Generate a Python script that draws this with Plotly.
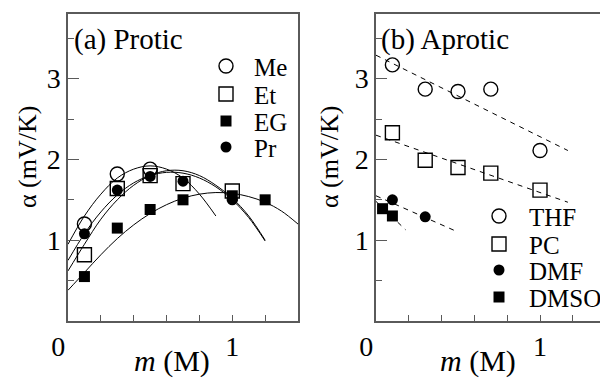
import plotly.graph_objects as go

# ---------------- data: (a) Protic ----------------
me_x = [0.1, 0.3, 0.5]
me_y = [1.20, 1.82, 1.88]
et_x = [0.1, 0.3, 0.5, 0.7, 1.0]
et_y = [0.82, 1.64, 1.80, 1.70, 1.61]
eg_x = [0.1, 0.3, 0.5, 0.7, 1.0, 1.2]
eg_y = [0.55, 1.15, 1.38, 1.50, 1.55, 1.50]
pr_x = [0.1, 0.3, 0.5, 0.7, 1.0]
pr_y = [1.08, 1.62, 1.79, 1.73, 1.50]

# fit curves
me_fit_x = [0, 0.1, 0.2, 0.3, 0.4, 0.5, 0.6, 0.7, 0.8, 0.9]
me_fit_y = [0.95, 1.30, 1.57, 1.77, 1.88, 1.92, 1.88, 1.77, 1.57, 1.30]
pr_fit_x = [0, 0.1, 0.2, 0.3, 0.4, 0.5, 0.6, 0.7, 0.8, 0.9, 1.0, 1.1, 1.2]
pr_fit_y = [0.75, 1.08, 1.35, 1.56, 1.71, 1.80, 1.84, 1.83, 1.77, 1.66, 1.50, 1.28, 0.99]
et_fit_x = [0, 0.1, 0.2, 0.3, 0.4, 0.5, 0.6, 0.7, 0.8, 0.9, 1.0, 1.1, 1.2]
et_fit_y = [0.62, 0.95, 1.26, 1.50, 1.68, 1.80, 1.86, 1.86, 1.80, 1.68, 1.52, 1.30, 1.00]
eg_fit_x = [0, 0.1, 0.2, 0.3, 0.4, 0.5, 0.6, 0.7, 0.8, 0.9, 1.0, 1.1, 1.2, 1.3, 1.4]
eg_fit_y = [0.38, 0.60, 0.82, 1.02, 1.19, 1.33, 1.44, 1.52, 1.57, 1.59, 1.58, 1.54, 1.47, 1.36, 1.20]

# ---------------- data: (b) Aprotic ----------------
thf_x = [0.1, 0.3, 0.5, 0.7, 1.0]
thf_y = [3.17, 2.87, 2.84, 2.87, 2.11]
pc_x = [0.1, 0.3, 0.5, 0.7, 1.0]
pc_y = [2.33, 1.99, 1.90, 1.83, 1.62]
dmf_x = [0.1, 0.3]
dmf_y = [1.50, 1.29]
dmso_x = [0.04, 0.1]
dmso_y = [1.39, 1.30]

thf_fit_x = [0, 1.17]
thf_fit_y = [3.29, 2.11]
pc_fit_x = [0, 1.17]
pc_fit_y = [2.30, 1.47]
dmf_fit_x = [0, 0.49]
dmf_fit_y = [1.55, 1.11]
dmso_fit_x = [0, 0.18]
dmso_fit_y = [1.48, 1.13]

# ticks
x_tickvals = [0, 0.2, 0.4, 0.6, 0.8, 1.0, 1.2, 1.4]
x_ticktext = ["0\u2002\u2009", "", "", "", "", "1", "", ""]
y_tickvals = [1, 2, 3]
y_ticktext = ["1", "2", "3"]

# legend labels
legend_a = ["Me", "Et", "EG", "Pr"]
legend_b = ["THF", "PC", "DMF", "DMSO"]

FONT = "Liberation Serif, Times New Roman, serif"
W, H = 600, 379
AX = "#5a5a5a"

STY = {
    "Me": ("circle-open", 14), "Et": ("square-open", 14), "EG": ("square", 11), "Pr": ("circle", 11),
    "THF": ("circle-open", 14), "PC": ("square-open", 14), "DMF": ("circle", 11), "DMSO": ("square", 11),
}

fig = go.Figure()

def marker(name):
    sym, size = STY[name]
    open_ = sym.endswith("open")
    return dict(symbol=sym, size=size, color="black",
                line=dict(color="black", width=1.4 if open_ else 0))

def pts(x, y, name, xa, ya):
    fig.add_trace(go.Scatter(x=x, y=y, mode="markers", name=name, xaxis=xa, yaxis=ya,
                             marker=marker(name), showlegend=False))

def fit(x, y, xa, ya, dash=None, shape="spline"):
    fig.add_trace(go.Scatter(
        x=x, y=y, mode="lines", showlegend=False, xaxis=xa, yaxis=ya,
        line=dict(color="black", width=1, dash=dash, shape=shape, smoothing=1.0),
        hoverinfo="skip",
    ))

# panel a
fit(me_fit_x, me_fit_y, "x", "y")
fit(et_fit_x, et_fit_y, "x", "y")
fit(pr_fit_x, pr_fit_y, "x", "y")
fit(eg_fit_x, eg_fit_y, "x", "y")
pts(me_x, me_y, "Me", "x", "y")
pts(et_x, et_y, "Et", "x", "y")
pts(eg_x, eg_y, "EG", "x", "y")
pts(pr_x, pr_y, "Pr", "x", "y")

# panel b
for fx, fy in [(thf_fit_x, thf_fit_y), (pc_fit_x, pc_fit_y),
               (dmf_fit_x, dmf_fit_y), (dmso_fit_x, dmso_fit_y)]:
    fit(fx, fy, "x2", "y2", dash="5px,5px", shape="linear")
pts(thf_x, thf_y, "THF", "x2", "y2")
pts(pc_x, pc_y, "PC", "x2", "y2")
pts(dmf_x, dmf_y, "DMF", "x2", "y2")
pts(dmso_x, dmso_y, "DMSO", "x2", "y2")

# legend keys drawn on a pixel-space overlay axis (x3/y3)
LEG = [(legend_a, 226, 252, [66, 94, 121, 147]),
       (legend_b, 499, 527, [216, 244, 270, 297])]
for names, kx, tx, ys in LEG:
    for name, ly in zip(names, ys):
        fig.add_trace(go.Scatter(x=[kx], y=[ly], mode="markers", xaxis="x3", yaxis="y3",
                                 marker=marker(name), showlegend=False, hoverinfo="skip"))
        fig.add_annotation(text=name, x=tx, y=ly + 1, xref="x3", yref="y3",
                           xanchor="left", yanchor="middle", showarrow=False,
                           font=dict(family=FONT, size=25, color="black"))

ydom = [(H - 321) / H, (H - 14) / H]

def xaxis(dom, rng, anchor):
    return dict(domain=dom, range=rng, anchor=anchor, showgrid=False, zeroline=False,
                showline=True, linecolor=AX, linewidth=1.5, mirror=True,
                ticks="inside", ticklen=6, tickwidth=1.2, tickcolor=AX,
                tickvals=x_tickvals, ticktext=x_ticktext,
                tickfont=dict(family=FONT, size=28, color="black"),
                automargin=False, fixedrange=True)

def yaxis(anchor, mirror):
    return dict(domain=ydom, range=[0, 3.8], anchor=anchor, showgrid=False, zeroline=False,
                showline=True, linecolor=AX, linewidth=1.5, mirror=mirror,
                ticks="inside", ticklen=11, tickwidth=1.2, tickcolor=AX,
                tickvals=y_tickvals, ticktext=y_ticktext,
                minor=dict(dtick=0.5, tick0=0, ticks="inside", ticklen=6, tickwidth=1.2, tickcolor=AX),
                tickfont=dict(family=FONT, size=28, color="black"),
                automargin=False, fixedrange=True)

fig.update_layout(
    width=W, height=H,
    margin=dict(l=0, r=0, t=0, b=0),
    paper_bgcolor="white", plot_bgcolor="rgba(0,0,0,0)",
    font=dict(family=FONT, color="black"),
    xaxis=xaxis([68 / W, 298 / W], [0, 1.4], "y"),
    yaxis=yaxis("x", True),
    xaxis2=xaxis([376 / W, 1.0], [0, 224 / 164], "y2"),
    yaxis2=yaxis("x2", False),
    xaxis3=dict(domain=[0, 1], range=[0, W], anchor="y3", visible=False, fixedrange=True),
    yaxis3=dict(domain=[0, 1], range=[H, 0], anchor="x3", visible=False, fixedrange=True),
    showlegend=False,
)

ann = [
    dict(text="(a) Protic", x=72 / W, y=1 - 39 / H, xanchor="left", yanchor="middle", size=29),
    dict(text="(b) Aprotic", x=379 / W, y=1 - 39 / H, xanchor="left", yanchor="middle", size=29),
    dict(text="<i>m</i> (M)", x=172 / W, y=1 - 361 / H, xanchor="center", yanchor="middle", size=30),
    dict(text="<i>m</i> (M)", x=478 / W, y=1 - 361 / H, xanchor="center", yanchor="middle", size=30),
]
for a in ann:
    fig.add_annotation(text=a["text"], x=a["x"], y=a["y"], xref="paper", yref="paper",
                       xanchor=a["xanchor"], yanchor=a["yanchor"], showarrow=False,
                       font=dict(family=FONT, size=a["size"], color="black"))
for cx in [28, 330]:
    fig.add_annotation(text="α (mV/K)", x=cx / W, y=1 - 157 / H, xref="paper", yref="paper",
                       xanchor="center", yanchor="middle", textangle=-90, showarrow=False,
                       font=dict(family=FONT, size=26, color="black"))

fig.write_html("out.html", config={"displayModeBar": False},
               post_script="document.body.style.margin='0';document.body.style.overflow='hidden';")
